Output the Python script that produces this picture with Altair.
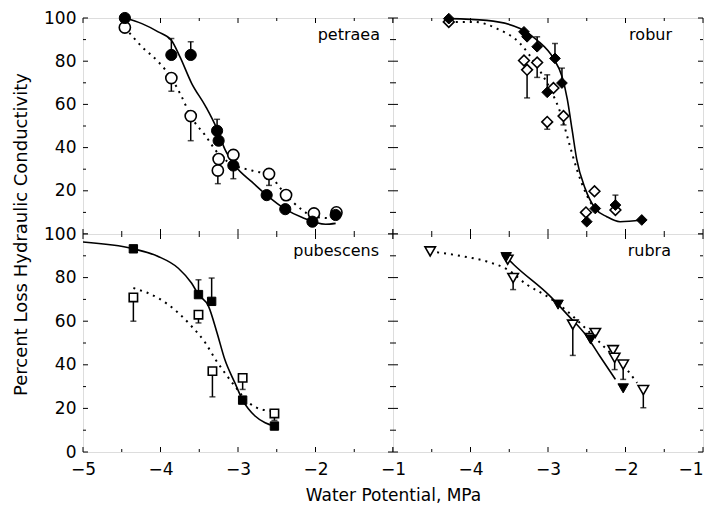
import altair as alt
import pandas as pd

W = 310
H_TOP, H_BOT = 216, 218
FONT = "DejaVu Sans"

panel_names = ["petraea", "robur", "pubescens", "rubra"]

# ---------------- petraea ----------------
pet_f_x = [-4.46, -3.86, -3.61, -3.27, -3.25, -3.06, -2.63, -2.39, -2.04, -1.74]
pet_f_y = [100, 82.9, 82.9, 47.8, 43.2, 31.7, 18.0, 11.5, 5.7, 8.8]
pet_f_e = [None, 90.5, 89.0, 53.1, None, 25.6, None, None, None, None]
pet_o_x = [-4.46, -3.86, -3.61, -3.25, -3.26, -3.06, -2.60, -2.38, -2.02, -1.73]
pet_o_y = [95.6, 72.2, 54.6, 34.7, 29.4, 36.6, 27.8, 18.0, 9.5, 10.0]
pet_o_e = [None, 66.1, 43.2, None, 23.3, 38.8, 22.5, None, 7.6, 8.0]
pet_s_x = [-4.46, -4.24, -4.03, -3.86, -3.75, -3.60, -3.42, -3.27, -3.17, -3.04, -2.82, -2.63, -2.39, -2.17, -1.87, -1.74]
pet_s_y = [100, 97.4, 93.6, 89.7, 82.1, 69.9, 59.2, 48.5, 39.3, 31.7, 24.1, 18.0, 11.5, 7.6, 4.5, 4.9]
pet_d_x = [-4.46, -4.24, -4.03, -3.86, -3.73, -3.61, -3.42, -3.25, -3.04, -2.82, -2.60, -2.38, -2.17, -2.02, -1.74]
pet_d_y = [95.6, 86.7, 79.8, 72.2, 63.8, 54.6, 45.5, 37.0, 31.7, 29.4, 27.1, 18.0, 11.1, 8.0, 7.2]

# ---------------- robur ----------------
rob_f_x = [-4.28, -3.31, -3.27, -3.14, -2.91, -2.82, -3.01, -2.39, -2.50, -2.13, -1.79]
rob_f_y = [99.7, 93.6, 91.3, 86.7, 81.3, 69.9, 65.6, 11.8, 5.7, 13.4, 6.5]
rob_f_e = [None, None, None, 91.3, 88.2, 76.8, 73.7, None, None, 18.0, None]
rob_o_x = [-4.28, -3.31, -3.14, -3.27, -2.93, -2.80, -3.01, -2.40, -2.51, -2.13]
rob_o_y = [98.2, 80.3, 79.4, 76.0, 67.6, 54.6, 51.9, 19.8, 10.0, 11.1]
rob_o_e = [None, None, 72.5, 63.0, None, 50.5, 48.5, None, None, None]
rob_s_x = [-4.28, -3.79, -3.36, -3.14, -2.93, -2.82, -2.75, -2.69, -2.63, -2.52, -2.39, -2.24, -2.07, -1.79]
rob_s_y = [99.7, 98.9, 95.1, 89.7, 81.3, 73.0, 62.2, 48.5, 34.7, 21.0, 11.8, 8.0, 5.7, 6.5]
rob_d_x = [-4.28, -3.96, -3.66, -3.36, -3.14, -2.97, -2.84, -2.73, -2.63, -2.50, -2.39]
rob_d_y = [98.2, 98.2, 95.1, 88.2, 77.5, 67.0, 56.1, 42.4, 30.2, 18.0, 11.1]

# ---------------- pubescens ----------------
pub_f_x = [-4.35, -3.51, -3.34, -2.94, -2.53]
pub_f_y = [93.2, 72.2, 69.1, 23.8, 11.9]
pub_f_e = [None, 79.0, 79.8, None, None]
pub_o_x = [-4.35, -3.51, -3.33, -2.94, -2.53]
pub_o_y = [70.9, 63.0, 37.1, 34.0, 17.7]
pub_o_e = [60.0, 59.2, 25.3, 28.7, 14.5]
pub_s_x = [-5.0, -4.35, -4.03, -3.77, -3.60, -3.51, -3.38, -3.27, -3.17, -3.04, -2.94, -2.78, -2.65, -2.53]
pub_s_y = [96.3, 93.2, 89.7, 84.3, 77.5, 72.2, 66.8, 54.6, 42.4, 31.7, 23.8, 16.5, 13.4, 11.9]
pub_d_x = [-4.35, -4.03, -3.77, -3.60, -3.42, -3.29, -3.17, -3.04, -2.86, -2.69, -2.53]
pub_d_y = [75.2, 70.6, 63.8, 57.7, 50.0, 42.4, 36.3, 30.2, 22.6, 19.5, 18.8]

# ---------------- rubra ----------------
rub_f_x = [-3.54, -2.87, -2.45, -2.03]
rub_f_y = [89.4, 67.6, 51.6, 29.2]
rub_f_e = [None, None, None, None]
rub_o_x = [-4.52, -3.52, -3.45, -2.68, -2.45, -2.39, -2.16, -2.14, -2.03, -1.77]
rub_o_y = [92.0, 88.2, 79.8, 58.4, 52.3, 54.6, 46.7, 43.2, 40.1, 28.4]
rub_o_e = [None, None, 74.5, 44.3, None, None, None, 37.8, 33.3, 20.3]
rub_s_x = [-3.50, -3.44, -2.97, -2.75, -2.50, -2.33, -2.13]
rub_s_y = [88.0, 85.9, 71.4, 63.0, 53.1, 43.9, 33.3]
rub_d_x = [-4.52, -4.09, -3.79, -3.52, -3.27, -3.01, -2.75, -2.50, -2.24, -2.02, -1.85]
rub_d_y = [92.0, 89.7, 87.4, 83.6, 76.7, 71.4, 64.5, 56.2, 47.0, 39.4, 31.7]

x_major = [-5, -4, -3, -2, -1]
x_minor = [-4.5, -3.5, -2.5, -1.5]
y_major = [0, 20, 40, 60, 80, 100]
y_minor = [10, 30, 50, 70, 90]


def make_panel(name, fx, fy, fe, ox, oy, oe, sx, sy, dx, dy, shape, size,
               xaxis, yaxis, label_right, H):
    xscale = alt.Scale(domain=[-5, -1], nice=False, zero=False)
    yscale = alt.Scale(domain=[0, 100], nice=False, zero=False)

    def X(f):
        return alt.X(f, type="quantitative", scale=xscale, axis=xaxis)

    def Y(f):
        return alt.Y(f, type="quantitative", scale=yscale, axis=yaxis)

    layers = []
    # inward ticks on all four sides
    for vals, L in ((x_major, 5), (x_minor, 3)):
        d = pd.DataFrame({"pos": vals})
        base = alt.Chart(d).mark_rule(color="black", strokeWidth=1)
        layers.append(base.encode(x=X("pos"), y=alt.value(H), y2=alt.value(H - L)))
        layers.append(base.encode(x=X("pos"), y=alt.value(0), y2=alt.value(L)))
    for vals, L in ((y_major, 5), (y_minor, 3)):
        d = pd.DataFrame({"pos": vals})
        base = alt.Chart(d).mark_rule(color="black", strokeWidth=1)
        layers.append(base.encode(y=Y("pos"), x=alt.value(0), x2=alt.value(L)))
        layers.append(base.encode(y=Y("pos"), x=alt.value(W), x2=alt.value(W - L)))

    # fitted curves
    sdf = pd.DataFrame({"x": sx, "y": sy})
    ddf = pd.DataFrame({"x": dx, "y": dy})
    layers.append(alt.Chart(sdf).mark_line(color="black", strokeWidth=1.6,
                                           interpolate="monotone")
                  .encode(x=X("x"), y=Y("y")))
    layers.append(alt.Chart(ddf).mark_line(color="black", strokeWidth=2,
                                           strokeDash=[2, 5],
                                           interpolate="monotone")
                  .encode(x=X("x"), y=Y("y")))

    # error bars
    ex, ey, ee = [], [], []
    for xs, ys, es in ((fx, fy, fe), (ox, oy, oe)):
        for a, b, c in zip(xs, ys, es):
            if c is not None:
                ex.append(a)
                ey.append(b)
                ee.append(c)
    if ex:
        edf = pd.DataFrame({"x": ex, "y": ey, "e": ee})
        layers.append(alt.Chart(edf).mark_rule(color="black", strokeWidth=1.5)
                      .encode(x=X("x"), y=Y("y"), y2=alt.Y2("e")))
        layers.append(alt.Chart(edf).mark_tick(color="black", orient="horizontal",
                                               size=6, thickness=1.5)
                      .encode(x=X("x"), y=Y("e")))

    # markers
    odf = pd.DataFrame({"x": ox, "y": oy})
    fdf = pd.DataFrame({"x": fx, "y": fy})
    layers.append(alt.Chart(odf).mark_point(shape=shape, size=size, filled=True,
                                            fill="white", stroke="black",
                                            strokeWidth=1.6, opacity=1)
                  .encode(x=X("x"), y=Y("y")))
    layers.append(alt.Chart(fdf).mark_point(shape=shape, size=size, filled=True,
                                            fill="black", stroke="black",
                                            strokeWidth=1, opacity=1)
                  .encode(x=X("x"), y=Y("y")))

    # panel label
    layers.append(alt.Chart(pd.DataFrame({"t": [name]}))
                  .mark_text(align="right", baseline="middle", fontSize=16,
                             font=FONT, color="black")
                  .encode(x=alt.value(W - label_right), y=alt.value(17), text="t:N"))

    return alt.layer(*layers).properties(width=W, height=H)


common_lab = dict(ticks=False, domain=False, grid=False, labelFont=FONT,
                  labelFontSize=17, labelColor="black",
                  labelOverlap=False, format="d")

y_axis_top = alt.Axis(values=[20, 40, 60, 80, 100], title=None,
                      labelPadding=7, labelFlush=False, **common_lab)
y_axis_bottom = alt.Axis(values=[0, 20, 40, 60, 80, 100],
                         title="Percent Loss Hydraulic Conductivity",
                         titleFont=FONT, titleFontSize=18, titleFontWeight="normal",
                         titleColor="black", titleX=-62, titleY=0, titleAngle=270,
                         titleAlign="center", titleBaseline="middle",
                         labelPadding=7, labelFlush=False, **common_lab)
x_axis_bl = alt.Axis(values=[-5, -4, -3, -2, -1],
                     title="Water Potential, MPa",
                     titleFont=FONT, titleFontSize=17, titleFontWeight="normal",
                     titleColor="black", titleX=W, titleY=43,
                     titleAlign="center", titleBaseline="middle",
                     labelPadding=9, labelFlush=False, **common_lab)
x_axis_br = alt.Axis(values=[-4, -3, -2, -1], title=None,
                     labelPadding=9, labelFlush=True, **common_lab)

TL = make_panel(panel_names[0], pet_f_x, pet_f_y, pet_f_e, pet_o_x, pet_o_y, pet_o_e,
                pet_s_x, pet_s_y, pet_d_x, pet_d_y, "circle", 125,
                None, y_axis_top, 13, H_TOP)
TR = make_panel(panel_names[1], rob_f_x, rob_f_y, rob_f_e, rob_o_x, rob_o_y, rob_o_e,
                rob_s_x, rob_s_y, rob_d_x, rob_d_y, "diamond", 115,
                None, None, 31, H_TOP)
BL = make_panel(panel_names[2], pub_f_x, pub_f_y, pub_f_e, pub_o_x, pub_o_y, pub_o_e,
                pub_s_x, pub_s_y, pub_d_x, pub_d_y, "square", 70,
                x_axis_bl, y_axis_bottom, 14, H_BOT)
BR = make_panel(panel_names[3], rub_f_x, rub_f_y, rub_f_e, rub_o_x, rub_o_y, rub_o_e,
                rub_s_x, rub_s_y, rub_d_x, rub_d_y, "triangle-down", 110,
                x_axis_br, None, 32, H_BOT)

chart = alt.concat(TL, TR, BL, BR, columns=2, spacing=0, bounds="flush").properties(
    padding={"left": 3, "top": 0, "right": 0, "bottom": 0}
).configure_view(stroke="black", strokeWidth=1.5).configure(background="white")

chart.save("out.html", embed_options={"renderer": "svg", "actions": False})
